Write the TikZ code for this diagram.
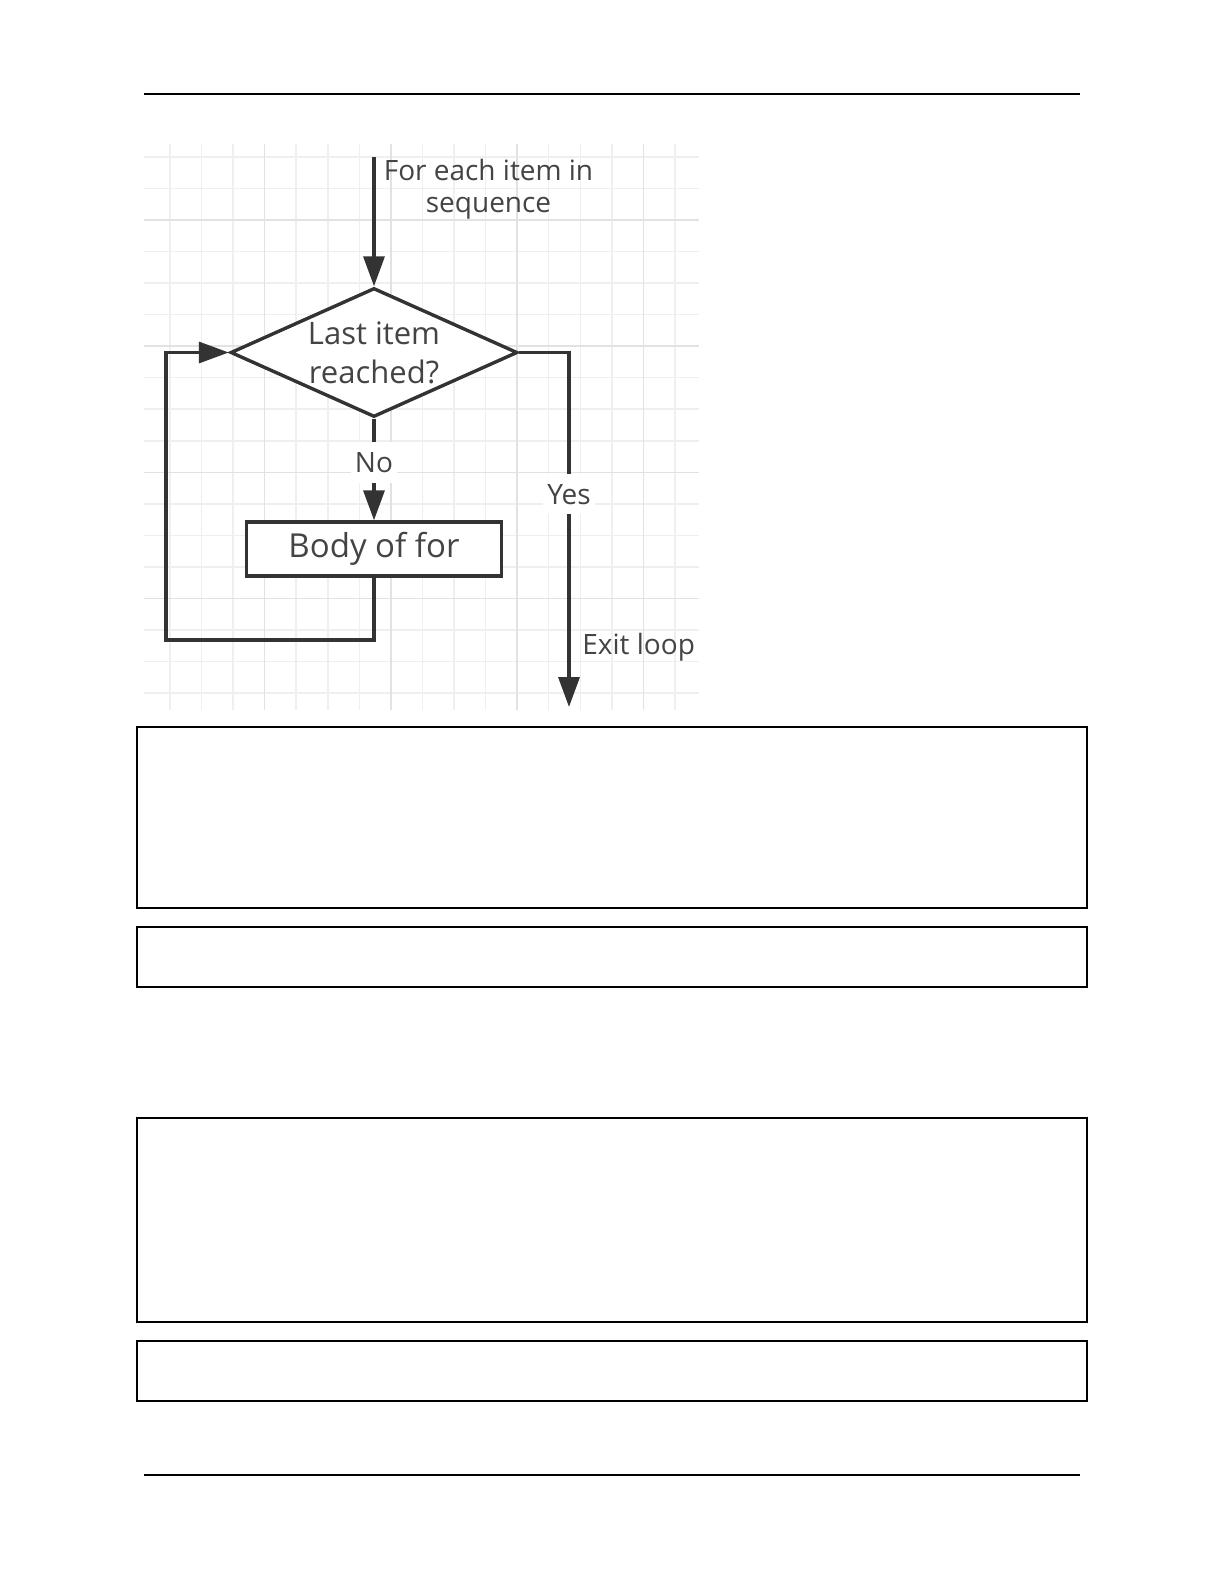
\documentclass[tikz,border=0pt]{standalone}
\usepackage{fontspec}
\setmainfont{Open Sans}
\usepackage{xcolor}
\usetikzlibrary{arrows.meta,positioning,shapes.geometric,calc}
\definecolor{ink}{HTML}{333333}
\definecolor{textgray}{HTML}{444444}
\definecolor{gridminor}{HTML}{EFEFEF}
\definecolor{gridmajor}{HTML}{E2E2E2}
\tikzset{
  decide/.style={draw=ink, fill=white, diamond, line width=1.7pt, inner sep=0pt, aspect=2.22,
    minimum width=143.5pt, minimum height=64.5pt, align=center, text=textgray,
    font=\fontsize{15.5pt}{19.5pt}\selectfont},
  proc/.style={draw=ink, fill=white, line width=1.7pt, minimum width=127.5pt, minimum height=27pt,
    text=textgray, font=\fontsize{16.5pt}{19pt}\selectfont},
  note/.style={text=textgray, inner sep=1pt, font=\fontsize{14pt}{16pt}\selectfont},
  tag/.style={note, fill=white, inner xsep=2pt, inner ysep=5pt},
  arrow/.style={-{Triangle[length=15pt,width=10.5pt]}, line width=1.7pt, draw=ink},
  panel/.style={draw=black, line width=0.7pt},
  rule/.style={draw=black, line width=0.7pt},
  gridmin/.style={draw=gridminor, line width=0.75pt},
  gridmaj/.style={draw=gridmajor, line width=0.75pt}
}
\begin{document}
\begin{tikzpicture}[x=0.5pt, y=-0.5pt]
  \useasboundingbox (0,0) rectangle (1224,1584);
  % Page rules
  \draw[rule] (144,94) -- (1080,94);
  \draw[rule] (144,1475) -- (1080,1475);
  % Grid behind the chart
  \begin{scope}
    \clip (144,144) rectangle (699,710);
    \foreach \k in {0,...,16} {\draw[gridmin] ({170+31.56*\k},144) -- ++(0,566);}
    \foreach \k in {0,...,17} {\draw[gridmin] (144,{157+31.53*\k}) -- ++(555,0);}
    \foreach \k in {3,7,11,15} {\draw[gridmaj] ({170+31.56*\k},144) -- ++(0,566);}
    \foreach \k in {2,6,10,14} {\draw[gridmaj] (144,{157+31.53*\k}) -- ++(555,0);}
  \end{scope}
  % Nodes
  \coordinate (start) at (374,157);
  \node[note, align=center] (seq) at (488.5,189) {For each item in\\sequence};
  \node[decide] (last) at (374,352.5) {Last item\\reached?};
  \node[proc] (body) at (374,549) {Body of for};
  \coordinate (loopbl) at (166,640);
  \coordinate (exit) at (569,707);
  \node[note, anchor=west] (exittxt) at (580,647) {Exit loop};
  % Connectors
  \draw[arrow] (start) -- (last.north);
  \draw[arrow] (last.south) -- node[tag, pos=0.43] (no) {No} (body.north);
  \draw[arrow] (body.south) |- (loopbl) |- (last.west);
  \draw[arrow] (last.east) -| node[tag, pos=0.70] (yes) {Yes} (exit);
  % Empty boxes
  \draw[panel] (137,727) rectangle (1087,908);
  \draw[panel] (137,927) rectangle (1087,987);
  \draw[panel] (137,1118) rectangle (1087,1322);
  \draw[panel] (137,1341) rectangle (1087,1401);
\end{tikzpicture}
\end{document}
